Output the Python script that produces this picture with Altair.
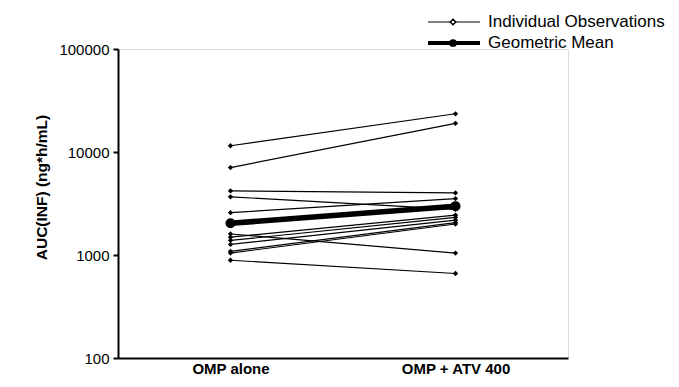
import altair as alt
import pandas as pd

groups = ["OMP alone", "OMP + ATV 400"]
subjects = ["S1", "S2", "S3", "S4", "S5", "S6", "S7", "S8", "S9", "S10", "S11", "S12"]
auc_alone = [11500, 7060, 4190, 3670, 2575, 1600, 1490, 1385, 1267, 1085, 1045, 889]
auc_atv = [23500, 19000, 4010, 2770, 3530, 1045, 2440, 2320, 2180, 2060, 2000, 661]
geo_mean = [2030, 2980]
y_ticks = [100, 1000, 10000, 100000]
legend_labels = ["Individual Observations", "Geometric Mean"]

FONT = "Liberation Sans"

rows = []
for s, a, b in zip(subjects, auc_alone, auc_atv):
    rows.append({"subject": s, "group": groups[0], "auc": a})
    rows.append({"subject": s, "group": groups[1], "auc": b})
ind = pd.DataFrame(rows)
mean_df = pd.DataFrame({"group": groups, "auc": geo_mean})

x_enc = alt.X(
    "group:N",
    scale=alt.Scale(type="point", domain=groups, padding=0.5),
    axis=alt.Axis(
        title=None, ticks=False, labelPadding=3, labelFontSize=15,
        labelFontWeight="bold", labelAngle=0, labelColor="black",
        labelBaseline="top", labelFont=FONT, domainColor="black", domainWidth=2,
    ),
)
y_enc = alt.Y(
    "auc:Q",
    scale=alt.Scale(type="log", domain=[100, 100000], nice=False),
    axis=alt.Axis(
        values=y_ticks, format="d", grid=False, title="AUC(INF) (ng*h/mL)",
        titleFont=FONT, titleFontSize=15.5, titleFontWeight="bold",
        titleColor="black", titleAngle=270, titleAlign="center",
        titleBaseline="middle", titleX=-77, titleY=138,
        labelFont=FONT, labelFontSize=15, labelColor="black",
        labelPadding=4, tickSize=5, tickColor="black", tickWidth=2,
        domainColor="black", domainWidth=2,
    ),
)

ind_lines = alt.Chart(ind).mark_line(color="black", strokeWidth=1.2).encode(
    x=x_enc, y=y_enc, detail="subject:N"
)
ind_pts = alt.Chart(ind).mark_point(
    shape="diamond", filled=True, color="black", size=28, opacity=1
).encode(x=x_enc, y=y_enc)
mean_line = alt.Chart(mean_df).mark_line(color="black", strokeWidth=5.5).encode(
    x=x_enc, y=y_enc
)
mean_pts = alt.Chart(mean_df).mark_circle(color="black", size=100, opacity=1).encode(
    x=x_enc, y=y_enc
)

leg_df = pd.DataFrame({"label": legend_labels})
one = pd.DataFrame({"k": [0]})
leg_rule1 = alt.Chart(one).mark_rule(color="black", strokeWidth=1).encode(
    x=alt.value(310), x2=alt.value(362), y=alt.value(-27)
)
leg_pt1 = alt.Chart(one).mark_point(
    shape="diamond", filled=True, fill="white", stroke="black", strokeWidth=1.5, size=30, opacity=1
).encode(x=alt.value(335), y=alt.value(-27))
leg_rule2 = alt.Chart(one).mark_rule(color="black", strokeWidth=4).encode(
    x=alt.value(310), x2=alt.value(362), y=alt.value(-6)
)
leg_pt2 = alt.Chart(one).mark_circle(color="black", size=60, opacity=1).encode(
    x=alt.value(335), y=alt.value(-6)
)
leg_t1 = alt.Chart(leg_df.iloc[[0]]).mark_text(
    align="left", baseline="middle", font=FONT, fontSize=17, color="black"
).encode(x=alt.value(370), y=alt.value(-27), text="label:N")
leg_t2 = alt.Chart(leg_df.iloc[[1]]).mark_text(
    align="left", baseline="middle", font=FONT, fontSize=17, color="black"
).encode(x=alt.value(370), y=alt.value(-6), text="label:N")

chart = alt.layer(
    ind_lines, ind_pts, mean_line, mean_pts,
    leg_rule1, leg_pt1, leg_rule2, leg_pt2, leg_t1, leg_t2,
).properties(
    width=450, height=309,
    autosize=alt.AutoSizeParams(type="none"),
    padding={"left": 110, "top": 41, "right": 102, "bottom": 21},
).configure_view(stroke=None).configure(background="white")

chart.save("out.html", embed_options={"renderer": "svg", "actions": False})
